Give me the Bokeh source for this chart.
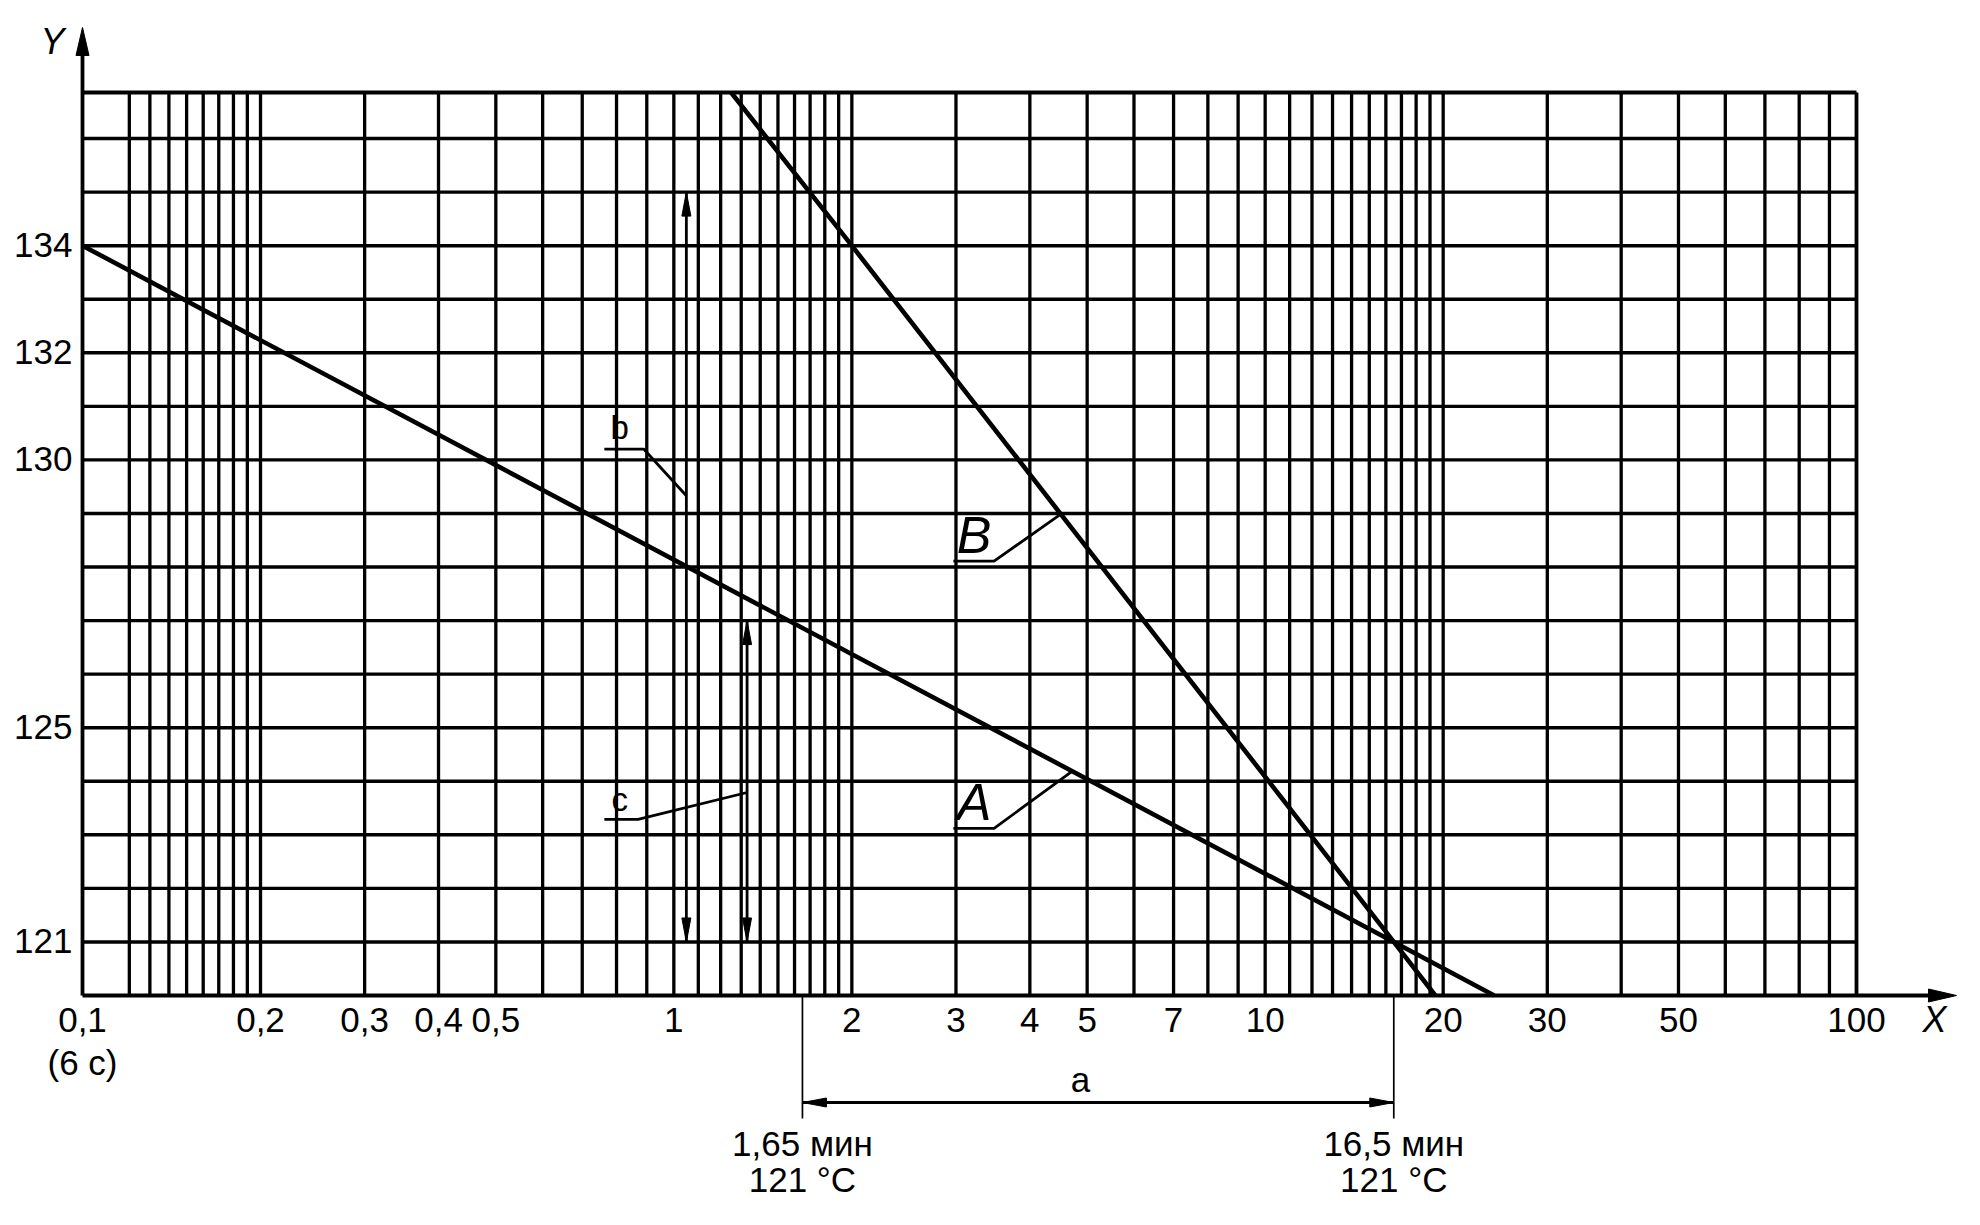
import math
from bokeh.plotting import figure
from bokeh.models import Range1d
from bokeh.core.properties import value
from bokeh.embed import file_html
from bokeh.resources import INLINE

FONT = "Liberation Sans"

# ---------------- data ----------------
x_ticks = [0.1, 0.2, 0.3, 0.4, 0.5, 1, 2, 3, 4, 5, 7, 10, 20, 30, 50, 100]
x_tick_labels = ["0,1", "0,2", "0,3", "0,4", "0,5", "1", "2", "3", "4", "5", "7",
                 "10", "20", "30", "50", "100"]
y_ticks = [121, 125, 130, 132, 134]
y_tick_labels = ["121", "125", "130", "132", "134"]

x_grid = ([0.12, 0.13, 0.14, 0.15, 0.16, 0.17, 0.18, 0.19]
          + [0.2, 0.3, 0.4, 0.5, 0.6, 0.7, 0.8, 0.9, 1.0]
          + [1.1, 1.2, 1.3, 1.4, 1.5, 1.6, 1.7, 1.8, 1.9]
          + [2, 3, 4, 5, 6, 7, 8, 9, 10]
          + [11, 12, 13, 14, 15, 16, 17, 18, 19]
          + [20, 30, 40, 50, 60, 70, 80, 90])
y_grid = [121, 122, 123, 124, 125, 126, 127, 128, 129, 130, 131, 132, 133, 134, 135, 136]

x_min, x_max = 0.1, 100
y_min, y_max = 120, 136.86

# curves A and B (time, min  vs  temperature, °C)
line_A_x = [0.1, 16.5, 24.4]
line_A_y = [134, 121, 120]
line_B_x = [1.25, 2, 16.5, 19.4]
line_B_y = [136.86, 134, 121, 120]

# vertical double arrows b and c
arrow_b = (1.05, 121, 135)
arrow_c = (1.33, 121, 127)

# dimension a
dim_x = [1.65, 16.5]
dim_labels = ["1,65 мин", "16,5 мин"]
dim_temp = "121 °C"
sub_label_01 = "(6 с)"

# ---------------- layout (page pixels) ----------------
W, H = 1980, 1225
FR_L, FR_R, FR_T, FR_B = 82, 1856, 92, 995
PX_DEC = (FR_R - FR_L) / math.log10(x_max / x_min)
PX_DEG = (FR_B - FR_T) / (y_max - y_min)


def X(px):
    return x_min * 10 ** ((px - FR_L) / PX_DEC)


def Y(py):
    return y_min + (FR_B - py) / PX_DEG


def PX(x):
    return FR_L + math.log10(x / x_min) * PX_DEC


def PY(y):
    return FR_B - (y - y_min) * PX_DEG


p = figure(width=W, height=H, x_axis_type="log",
           x_range=Range1d(X(0), X(W)), y_range=Range1d(Y(H), Y(0)),
           x_axis_location=None, y_axis_location=None,
           output_backend="svg", toolbar_location=None, min_border=0)
p.outline_line_color = None
p.background_fill_color = "white"
p.border_fill_color = "white"
p.grid.visible = False

# grid
n = len(x_grid)
p.segment(x0=x_grid, y0=[y_min] * n, x1=x_grid, y1=[y_max] * n,
          line_color="black", line_width=3.3)
m = len(y_grid)
p.segment(x0=[x_min] * m, y0=y_grid, x1=[x_max] * m, y1=y_grid,
          line_color="black", line_width=3.4)

# frame + axis lines
p.segment(x0=[x_min, x_max, x_min, x_min], y0=[y_max, y_min, y_min, y_min],
          x1=[x_max, x_max, X(1935), x_min], y1=[y_max, y_max, y_min, Y(45)],
          line_color="black", line_width=3.8)


def head(tx, ty, dx, dy, length, width):
    """arrow head (page px) with tip (tx,ty) pointing along (dx,dy)"""
    bx, by = tx - dx * length, ty - dy * length
    nx, ny = -dy * width / 2, dx * width / 2
    xs = [X(tx), X(bx + nx), X(bx - nx)]
    ys = [Y(ty), Y(by + ny), Y(by - ny)]
    return xs, ys


heads_x, heads_y = [], []
for h in [head(FR_L, 27, 0, -1, 28, 13), head(1956, FR_B, 1, 0, 28, 13)]:
    heads_x.append(h[0]); heads_y.append(h[1])

# curves
p.line(line_A_x, line_A_y, line_color="black", line_width=4.6)
p.line(line_B_x, line_B_y, line_color="black", line_width=4.6)

# arrows b and c
for xa, y0, y1 in (arrow_b, arrow_c):
    p.segment(x0=[xa], y0=[y0], x1=[xa], y1=[y1], line_color="black", line_width=2.8)
    for yt, d in ((y1, -1), (y0, 1)):
        h = head(PX(xa), PY(yt), 0, d, 24, 9)
        heads_x.append(h[0]); heads_y.append(h[1])

# dimension a
dim_y = Y(1102)
p.segment(x0=dim_x, y0=[y_min] * 2, x1=dim_x, y1=[Y(1118)] * 2, line_color="black", line_width=1.7)
p.segment(x0=[dim_x[0]], y0=[dim_y], x1=[dim_x[1]], y1=[dim_y], line_color="black", line_width=3.0)
for h in (head(PX(dim_x[0]), 1102, -1, 0, 24, 9), head(PX(dim_x[1]), 1102, 1, 0, 24, 9)):
    heads_x.append(h[0]); heads_y.append(h[1])

p.patches(heads_x, heads_y, fill_color="black", line_color="black", line_width=1)

# leader lines
p.line([0.763, 0.89, 1.05], [130.2, 130.2, 129.33], line_color="black", line_width=2.8)
p.line([0.763, 0.87, 1.33], [123.29, 123.29, 123.79], line_color="black", line_width=2.8)
p.line([2.97, 3.48, 4.5], [128.11, 128.11, 128.98], line_color="black", line_width=2.8)
p.line([2.97, 3.48, 4.72], [123.12, 123.12, 124.19], line_color="black", line_width=2.8)


def txt(x, baseline_px, t, size, align="center", style="normal"):
    """place text so that its baseline sits at the given page pixel rows"""
    ys = [Y(b - 0.39 * size) for b in baseline_px]
    p.text(x=x, y=ys, text=t, text_font=value(FONT), text_font_size=f"{size}px",
           text_align=align, text_baseline="alphabetic", text_font_style=style,
           text_color="black")


txt([0.81], [440], ["b"], 33)
txt([0.81], [812], ["c"], 33)
txt([3.22], [555], ["B"], 52, style="italic")
txt([3.22], [822], ["A"], 52, style="italic")

# tick labels
txt(x_ticks, [1033] * len(x_ticks), x_tick_labels, 35)
txt([X(72)] * len(y_ticks), [PY(t) + 12.5 for t in y_ticks], y_tick_labels, 35, align="right")
txt([x_min], [1076], [sub_label_01], 35)

# axis names
txt([X(1934)], [1033], ["X"], 36, style="italic")
txt([X(52)], [55], ["Y"], 36, style="italic")

# dimension texts
txt([X(1080)], [1093], ["a"], 35)
txt(dim_x, [1157] * 2, dim_labels, 35)
txt(dim_x, [1193] * 2, [dim_temp] * 2, 35)

open("out.html", "w").write(file_html(p, INLINE))
